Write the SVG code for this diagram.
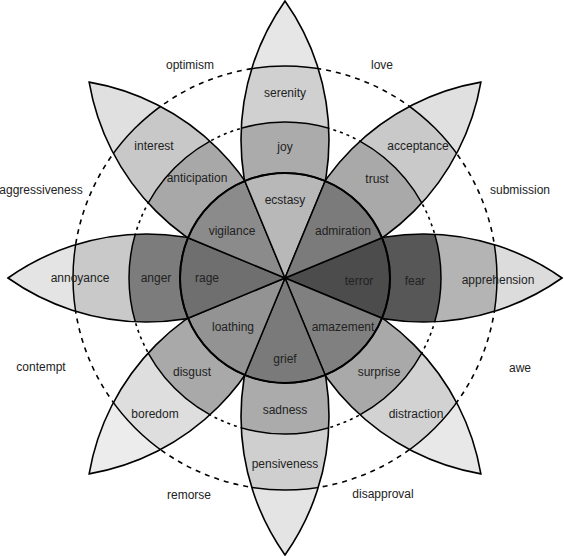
<svg xmlns="http://www.w3.org/2000/svg" width="564" height="556" viewBox="0 0 564 556">
<style>
.t{font-family:"Liberation Sans",Arial,sans-serif;font-size:12px;fill:#222;text-anchor:middle}
.ol{fill:none;stroke:#000;stroke-width:1.6}
.bd{stroke:#000;stroke-width:1.5}
.sec{stroke:#000;stroke-width:1.5}
.ring1{fill:none;stroke:#000;stroke-width:1.6;stroke-dasharray:5 5}
.ring2{fill:none;stroke:#000;stroke-width:1.6;stroke-dasharray:3 4}
</style>
<defs>
<path id="pet" d="M0 0A240 240 0 0 1 277 0A240 240 0 0 1 0 0Z"/>
<clipPath id="pc" clipPathUnits="userSpaceOnUse"><path d="M0 0A240 240 0 0 1 277 0A240 240 0 0 1 0 0Z"/></clipPath>
<path id="sec" d="M0 0L97.01 -40.18A105 105 0 0 1 97.01 40.18Z"/>
</defs>
<rect width="564" height="556" fill="#fff"/>
<g id="rings">
<circle class="ring1" cx="285" cy="278" r="212"/>
<circle class="ring2" cx="285" cy="278" r="156"/>
</g>
<g id="petals">
<g id="fear-petal" transform="translate(285 278) rotate(0)">
<use href="#pet" fill="#dcdcdc"/>
<g clip-path="url(#pc)"><circle class="bd" r="212" fill="#b4b4b4"/><circle class="bd" r="156" fill="#575757"/></g>
<use href="#pet" class="ol"/>
</g>
<g id="surprise-petal" transform="translate(285 278) rotate(45)">
<use href="#pet" fill="#e8e8e8"/>
<g clip-path="url(#pc)"><circle class="bd" r="212" fill="#d2d2d2"/><circle class="bd" r="156" fill="#a9a9a9"/></g>
<use href="#pet" class="ol"/>
</g>
<g id="sadness-petal" transform="translate(285 278) rotate(90)">
<use href="#pet" fill="#e4e4e4"/>
<g clip-path="url(#pc)"><circle class="bd" r="212" fill="#cfcfcf"/><circle class="bd" r="156" fill="#ababab"/></g>
<use href="#pet" class="ol"/>
</g>
<g id="disgust-petal" transform="translate(285 278) rotate(135)">
<use href="#pet" fill="#ececec"/>
<g clip-path="url(#pc)"><circle class="bd" r="212" fill="#dedede"/><circle class="bd" r="156" fill="#a9a9a9"/></g>
<use href="#pet" class="ol"/>
</g>
<g id="anger-petal" transform="translate(285 278) rotate(180)">
<use href="#pet" fill="#e4e4e4"/>
<g clip-path="url(#pc)"><circle class="bd" r="212" fill="#c9c9c9"/><circle class="bd" r="156" fill="#7c7c7c"/></g>
<use href="#pet" class="ol"/>
</g>
<g id="anticipation-petal" transform="translate(285 278) rotate(225)">
<use href="#pet" fill="#e0e0e0"/>
<g clip-path="url(#pc)"><circle class="bd" r="212" fill="#c8c8c8"/><circle class="bd" r="156" fill="#a8a8a8"/></g>
<use href="#pet" class="ol"/>
</g>
<g id="joy-petal" transform="translate(285 278) rotate(270)">
<use href="#pet" fill="#e6e6e6"/>
<g clip-path="url(#pc)"><circle class="bd" r="212" fill="#d0d0d0"/><circle class="bd" r="156" fill="#ababab"/></g>
<use href="#pet" class="ol"/>
</g>
<g id="trust-petal" transform="translate(285 278) rotate(315)">
<use href="#pet" fill="#e0e0e0"/>
<g clip-path="url(#pc)"><circle class="bd" r="212" fill="#c9c9c9"/><circle class="bd" r="156" fill="#a9a9a9"/></g>
<use href="#pet" class="ol"/>
</g>
</g>
<g id="core">
<g id="terror" transform="translate(285 278) rotate(0)"><use href="#sec" class="sec" fill="#4c4c4c"/></g>
<g id="amazement" transform="translate(285 278) rotate(45)"><use href="#sec" class="sec" fill="#808080"/></g>
<g id="grief" transform="translate(285 278) rotate(90)"><use href="#sec" class="sec" fill="#7a7a7a"/></g>
<g id="loathing" transform="translate(285 278) rotate(135)"><use href="#sec" class="sec" fill="#939393"/></g>
<g id="rage" transform="translate(285 278) rotate(180)"><use href="#sec" class="sec" fill="#6f6f6f"/></g>
<g id="vigilance" transform="translate(285 278) rotate(225)"><use href="#sec" class="sec" fill="#8b8b8b"/></g>
<g id="ecstasy" transform="translate(285 278) rotate(270)"><use href="#sec" class="sec" fill="#b8b8b8"/></g>
<g id="admiration" transform="translate(285 278) rotate(315)"><use href="#sec" class="sec" fill="#7b7b7b"/></g>
<circle cx="285" cy="278" r="105" fill="none" stroke="#000" stroke-width="2"/>
</g>
<g id="labels">
<text class="t" x="285" y="97">serenity</text>
<text class="t" x="285" y="151">joy</text>
<text class="t" x="285" y="204">ecstasy</text>
<text class="t" x="418" y="150">acceptance</text>
<text class="t" x="377" y="183">trust</text>
<text class="t" x="343" y="235">admiration</text>
<text class="t" x="498" y="284">apprehension</text>
<text class="t" x="415" y="285">fear</text>
<text class="t" x="359" y="285">terror</text>
<text class="t" x="416" y="418">distraction</text>
<text class="t" x="379" y="376">surprise</text>
<text class="t" x="343" y="331">amazement</text>
<text class="t" x="285" y="468">pensiveness</text>
<text class="t" x="285" y="414">sadness</text>
<text class="t" x="285" y="363">grief</text>
<text class="t" x="155" y="418">boredom</text>
<text class="t" x="192" y="376">disgust</text>
<text class="t" x="233" y="331">loathing</text>
<text class="t" x="80" y="282">annoyance</text>
<text class="t" x="156" y="282">anger</text>
<text class="t" x="207" y="282">rage</text>
<text class="t" x="154" y="150">interest</text>
<text class="t" x="197" y="182">anticipation</text>
<text class="t" x="232" y="235">vigilance</text>
<text class="t" x="190" y="69">optimism</text>
<text class="t" x="382" y="69">love</text>
<text class="t" x="41" y="194">aggressiveness</text>
<text class="t" x="520" y="194">submission</text>
<text class="t" x="41" y="371">contempt</text>
<text class="t" x="520" y="372">awe</text>
<text class="t" x="189" y="499">remorse</text>
<text class="t" x="383" y="498">disapproval</text>
</g>
</svg>
